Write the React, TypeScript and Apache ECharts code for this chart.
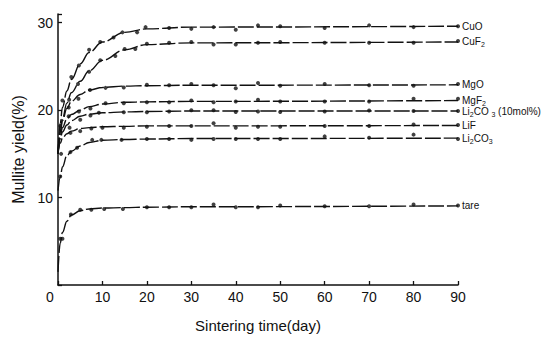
import React, { useEffect, useRef } from "react";
import * as echarts from "echarts";

const names = ["CuO", "CuF2", "MgO", "MgF2", "Li2CO3 (10mol%)", "LiF", "Li2CO3", "tare"];
const labelTexts = [
  "CuO",
  "CuF{s|2}",
  "MgO",
  "MgF{s|2}",
  "Li{s|2}CO {s|3} (10mol%)",
  "LiF",
  "Li{s|2}CO{s|3}",
  "tare",
];

// fitted curves
const fitDays = [0, 0.5, 1, 2, 3, 5, 7, 10, 15, 20, 30, 90];
const fitCuO = [15, 18.5, 20.3, 22.2, 23.5, 25.3, 26.6, 27.8, 28.9, 29.3, 29.5, 29.6];
const fitCuF2 = [15, 17.5, 19, 20.8, 22, 23.3, 24.5, 25.7, 26.9, 27.5, 27.7, 27.8];
const fitMgO = [15, 17.5, 18.8, 20.2, 21, 21.8, 22.3, 22.6, 22.75, 22.8, 22.85, 22.9];
const fitMgF2 = [15, 17, 18, 19, 19.5, 20, 20.4, 20.7, 20.9, 20.95, 21, 21.1];
const fitLi10 = [15, 16.7, 17.5, 18.3, 18.8, 19.3, 19.55, 19.7, 19.8, 19.85, 19.9, 19.9];
const fitLiF = [15, 16.2, 16.8, 17.3, 17.6, 17.9, 18.0, 18.1, 18.15, 18.2, 18.2, 18.25];
const fitLi2CO3 = [10.8, 12.3, 13.5, 14.8, 15.3, 15.9, 16.3, 16.55, 16.65, 16.7, 16.75, 16.8];
const fitTare = [1.5, 4.8, 6, 7.3, 8.0, 8.5, 8.7, 8.8, 8.85, 8.9, 8.95, 9.05];

// measured points
const plateauDays = [25, 30, 35, 40, 45, 50, 60, 70, 80, 90];
const ptsCuO: number[][] = [[1, 21.1], [3, 23.8], [4.7, 25.1], [7, 26.9], [9.5, 27.8], [12.5, 28.3], [14.5, 28.9], [17.8, 28.9], [19.7, 29.5]];
const plCuO = [29.4, 29.3, 29.5, 29.2, 29.7, 29.6, 29.4, 29.7, 29.5, 29.6];
const ptsCuF2: number[][] = [[2.5, 21.2], [4.5, 23.0], [7, 24.4], [9.5, 25.7], [12.9, 26.2], [15, 27.0], [17.4, 27.0], [20, 27.6]];
const plCuF2 = [27.7, 27.8, 27.5, 27.5, 27.7, 27.8, 27.7, 27.7, 27.7, 27.9];
const ptsMgO: number[][] = [[2.4, 20.3], [4.6, 21.3], [7.2, 22.3], [10.7, 22.55], [14.8, 22.6], [20, 22.9]];
const plMgO = [22.85, 23.0, 22.85, 22.5, 23.1, 22.8, 23.0, 22.85, 22.8, 23.0];
const ptsMgF2: number[][] = [[2.4, 19.3], [4.7, 19.85], [7.3, 20.2], [10.7, 20.8], [14.8, 20.8], [20, 20.9]];
const plMgF2 = [20.9, 21.1, 20.9, 21.0, 21.2, 21.0, 21.0, 21.0, 21.3, 21.3];
const ptsLi10: number[][] = [[0.5, 18.2], [2.6, 18.0], [5, 18.9], [7.3, 19.4], [9.2, 19.7], [14.8, 19.75], [20, 19.75]];
const plLi10 = [19.85, 20.0, 20.0, 19.8, 19.85, 19.8, 19.85, 19.95, 19.9, 19.9];
const ptsLiF: number[][] = [[0.7, 15.0], [2.8, 17.4], [5, 17.6], [7.5, 17.9], [10, 18.0], [14.8, 18.0], [20, 18.1]];
const plLiF = [18.2, 18.2, 18.5, 18.0, 18.1, 18.1, 18.2, 18.2, 18.35, 18.3];
const ptsLi2CO3: number[][] = [[0.5, 12.4], [2.8, 15.2], [4.3, 15.7], [7.7, 16.6], [9.75, 16.6], [14.3, 16.6], [20, 16.7]];
const plLi2CO3 = [16.7, 16.6, 16.7, 16.7, 16.7, 16.7, 17.0, 16.85, 17.2, 16.7];
const ptsTare: number[][] = [[0.5, 5.3], [1, 5.3], [2.9, 8.06], [5, 8.6], [7.5, 8.6], [10.4, 8.7], [14.6, 8.7], [20, 8.9]];
const plTare = [8.9, 8.9, 9.2, 8.9, 8.9, 9.1, 9.0, 9.0, 9.2, 9.1];

const fits = [fitCuO, fitCuF2, fitMgO, fitMgF2, fitLi10, fitLiF, fitLi2CO3, fitTare];
const early = [ptsCuO, ptsCuF2, ptsMgO, ptsMgF2, ptsLi10, ptsLiF, ptsLi2CO3, ptsTare];
const plateaus = [plCuO, plCuF2, plMgO, plMgF2, plLi10, plLiF, plLi2CO3, plTare];

const xTicks = [0, 10, 20, 30, 40, 50, 60, 70, 80, 90];
const yTicks = [10, 20, 30];

const FONT = "Liberation Sans, Arial, sans-serif";

export default function App() {
  const ref = useRef<HTMLDivElement>(null);
  useEffect(() => {
    if (!ref.current) return;
    const chart = echarts.init(ref.current, undefined, { renderer: "svg" });
    const series: any[] = [];
    names.forEach((name, i) => {
      series.push({
        name: name + " fit",
        type: "line",
        data: fitDays.map((d, k) => [d, fits[i][k]]),
        smooth: 0.4,
        smoothMonotone: "x",
        showSymbol: false,
        lineStyle: { color: "#111", width: 1.4, type: [16, 3] },
        endLabel: {
          show: true,
          formatter: () => labelTexts[i],
          color: "#111",
          fontFamily: FONT,
          fontSize: 10,
          distance: 4,
          rich: { s: { fontSize: 7, fontFamily: FONT, color: "#111", padding: [6, 0, 0, 0] } },
        },
        silent: true,
      });
      series.push({
        name,
        type: "scatter",
        data: [...early[i], ...plateauDays.map((d, k) => [d, plateaus[i][k]])],
        symbol: "circle",
        symbolSize: 4,
        itemStyle: { color: "#111" },
        silent: true,
      });
    });
    chart.setOption({
      animation: false,
      backgroundColor: "#fff",
      grid: { left: 58, right: 99, top: 14, bottom: 48 },
      xAxis: {
        type: "value",
        min: 0,
        max: 90,
        interval: 10,
        name: "Sintering time(day)",
        nameLocation: "middle",
        nameGap: 33,
        nameTextStyle: { fontFamily: FONT, fontSize: 15, color: "#111" },
        axisLine: { lineStyle: { color: "#111", width: 1.5 } },
        axisTick: { inside: true, length: 4, lineStyle: { color: "#111", width: 1.3 } },
        axisLabel: {
          fontFamily: FONT,
          fontSize: 14,
          color: "#111",
          margin: 5,
          formatter: (v: number) => (xTicks.includes(v) ? (v === 0 ? "{z|0}" : String(v)) : ""),
          rich: { z: { fontFamily: FONT, fontSize: 14, color: "#111", padding: [0, 16, 0, 0] } },
        },
        splitLine: { show: false },
      },
      yAxis: {
        type: "value",
        min: 0,
        max: 31,
        interval: 10,
        name: "Mullite yield(%)",
        nameLocation: "middle",
        nameGap: 30,
        nameTextStyle: { fontFamily: FONT, fontSize: 16, color: "#111" },
        axisLine: { lineStyle: { color: "#111", width: 1.5 } },
        axisTick: { inside: true, length: 4, lineStyle: { color: "#111", width: 1.3 } },
        axisLabel: {
          fontFamily: FONT,
          fontSize: 14,
          color: "#111",
          margin: 5,
          formatter: (v: number) => (yTicks.includes(v) ? String(v) : ""),
        },
        splitLine: { show: false },
      },
      series,
    });
    return () => chart.dispose();
  }, []);
  return <div ref={ref} style={{ width: 557, height: 338, position: "absolute", left: 0, top: 0 }} />;
}
